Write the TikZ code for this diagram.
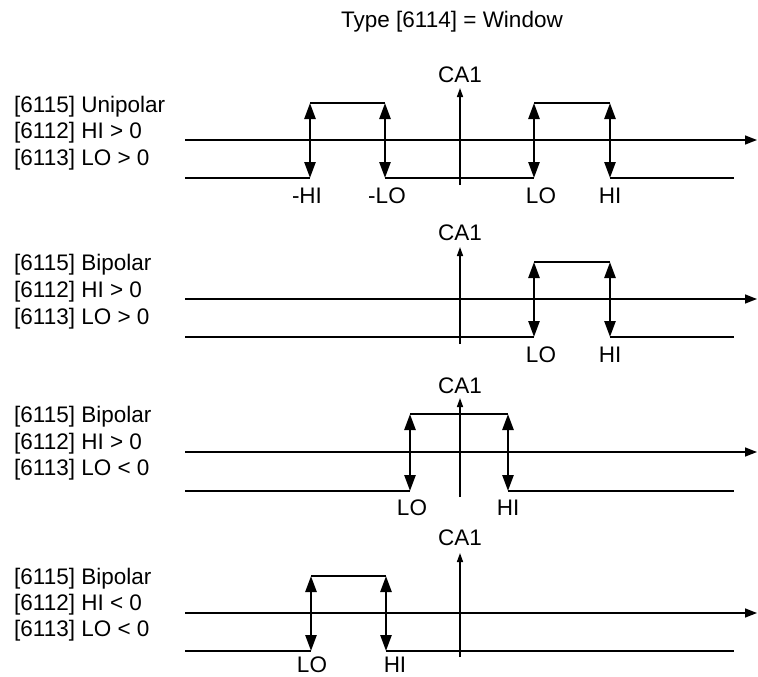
\documentclass[tikz,border=0pt]{standalone}
\usepackage{fontspec}
\setmainfont{Liberation Sans}
\usetikzlibrary{arrows.meta}
\tikzset{
  axisline/.style={line width=1.5pt, -{Triangle[length=12pt,width=9pt]}},
  caline/.style={line width=1.5pt, -{Triangle[length=9pt,width=6pt]}},
  sig/.style={line width=2.3pt},
  dbl/.style={line width=2.6pt, {Triangle[length=16pt,width=11pt]}-{Triangle[length=16pt,width=11pt]}},
  txt/.style={inner sep=0pt, font=\fontsize{22.5}{27}\selectfont},
  lefttxt/.style={txt, anchor=base west},
  lbl/.style={txt, anchor=base},
}
\begin{document}
\begin{tikzpicture}[x=1pt,y=-1pt]
\useasboundingbox (0,0) rectangle (758,677);
\node[lbl] (title) at (452,28) {Type [6114] = Window};

% ---------- Panel 1 ----------
\node[lefttxt] (p1t1) at (14,112.5) {[6115] Unipolar};
\node[lefttxt] (p1t2) at (14,139) {[6112] HI > 0};
\node[lefttxt] (p1t3) at (14,165) {[6113] LO > 0};
\coordinate (p1a0) at (185,140); \coordinate (p1a1) at (757,140);
\draw[axisline] (p1a0) -- (p1a1);
\coordinate (p1c0) at (460,185); \coordinate (p1c1) at (460,88);
\draw[caline] (p1c0) -- (p1c1);
\node[lbl] (p1ca) at (460,82.5) {CA1};
\coordinate (p1l0) at (185,178);
\coordinate (p1v1l) at (310,178); \coordinate (p1v1h) at (310,103);
\coordinate (p1v2l) at (385,178); \coordinate (p1v2h) at (385,103);
\coordinate (p1v3l) at (534,178); \coordinate (p1v3h) at (534,103);
\coordinate (p1v4l) at (610,178); \coordinate (p1v4h) at (610,103);
\coordinate (p1l1) at (734,178);
\draw[sig] (p1l0) -- (p1v1l);
\draw[sig] (p1v1h) -- (p1v2h);
\draw[sig] (p1v2l) -- (p1v3l);
\draw[sig] (p1v3h) -- (p1v4h);
\draw[sig] (p1v4l) -- (p1l1);
\draw[dbl] (p1v1h) -- (p1v1l);
\draw[dbl] (p1v2h) -- (p1v2l);
\draw[dbl] (p1v3h) -- (p1v3l);
\draw[dbl] (p1v4h) -- (p1v4l);
\node[lbl] (p1n1) at (307,203) {-HI};
\node[lbl] (p1n2) at (387,203) {-LO};
\node[lbl] (p1n3) at (541,203) {LO};
\node[lbl] (p1n4) at (610,203) {HI};

% ---------- Panel 2 ----------
\node[lefttxt] (p2t1) at (14,270) {[6115] Bipolar};
\node[lefttxt] (p2t2) at (14,297.5) {[6112] HI > 0};
\node[lefttxt] (p2t3) at (14,324) {[6113] LO > 0};
\coordinate (p2a0) at (185,299); \coordinate (p2a1) at (757,299);
\draw[axisline] (p2a0) -- (p2a1);
\coordinate (p2c0) at (460,344); \coordinate (p2c1) at (460,247);
\draw[caline] (p2c0) -- (p2c1);
\node[lbl] (p2ca) at (460,240.5) {CA1};
\coordinate (p2l0) at (185,337);
\coordinate (p2v1l) at (534,337); \coordinate (p2v1h) at (534,262);
\coordinate (p2v2l) at (610,337); \coordinate (p2v2h) at (610,262);
\coordinate (p2l1) at (734,337);
\draw[sig] (p2l0) -- (p2v1l);
\draw[sig] (p2v1h) -- (p2v2h);
\draw[sig] (p2v2l) -- (p2l1);
\draw[dbl] (p2v1h) -- (p2v1l);
\draw[dbl] (p2v2h) -- (p2v2l);
\node[lbl] (p2n1) at (541,362) {LO};
\node[lbl] (p2n2) at (610,362) {HI};

% ---------- Panel 3 ----------
\node[lefttxt] (p3t1) at (14,422.5) {[6115] Bipolar};
\node[lefttxt] (p3t2) at (14,449) {[6112] HI > 0};
\node[lefttxt] (p3t3) at (14,475) {[6113] LO < 0};
\coordinate (p3a0) at (185,452); \coordinate (p3a1) at (757,452);
\draw[axisline] (p3a0) -- (p3a1);
\coordinate (p3c0) at (460,497); \coordinate (p3c1) at (460,398);
\draw[caline] (p3c0) -- (p3c1);
\node[lbl] (p3ca) at (460,393) {CA1};
\coordinate (p3l0) at (185,491);
\coordinate (p3v1l) at (410,491); \coordinate (p3v1h) at (410,414);
\coordinate (p3v2l) at (508,491); \coordinate (p3v2h) at (508,414);
\coordinate (p3l1) at (734,491);
\draw[sig] (p3l0) -- (p3v1l);
\draw[sig] (p3v1h) -- (p3v2h);
\draw[sig] (p3v2l) -- (p3l1);
\draw[dbl] (p3v1h) -- (p3v1l);
\draw[dbl] (p3v2h) -- (p3v2l);
\node[lbl] (p3n1) at (412,515.5) {LO};
\node[lbl] (p3n2) at (508,515.5) {HI};

% ---------- Panel 4 ----------
\node[lefttxt] (p4t1) at (14,584) {[6115] Bipolar};
\node[lefttxt] (p4t2) at (14,610.5) {[6112] HI < 0};
\node[lefttxt] (p4t3) at (14,636.5) {[6113] LO < 0};
\coordinate (p4a0) at (185,613); \coordinate (p4a1) at (757,613);
\draw[axisline] (p4a0) -- (p4a1);
\coordinate (p4c0) at (460,657); \coordinate (p4c1) at (460,553);
\draw[caline] (p4c0) -- (p4c1);
\node[lbl] (p4ca) at (460,545) {CA1};
\coordinate (p4l0) at (185,651);
\coordinate (p4v1l) at (311,651); \coordinate (p4v1h) at (311,576);
\coordinate (p4v2l) at (386,651); \coordinate (p4v2h) at (386,576);
\coordinate (p4l1) at (734,651);
\draw[sig] (p4l0) -- (p4v1l);
\draw[sig] (p4v1h) -- (p4v2h);
\draw[sig] (p4v2l) -- (p4l1);
\draw[dbl] (p4v1h) -- (p4v1l);
\draw[dbl] (p4v2h) -- (p4v2l);
\node[lbl] (p4n1) at (312,672) {LO};
\node[lbl] (p4n2) at (395,672) {HI};
\end{tikzpicture}
\end{document}
